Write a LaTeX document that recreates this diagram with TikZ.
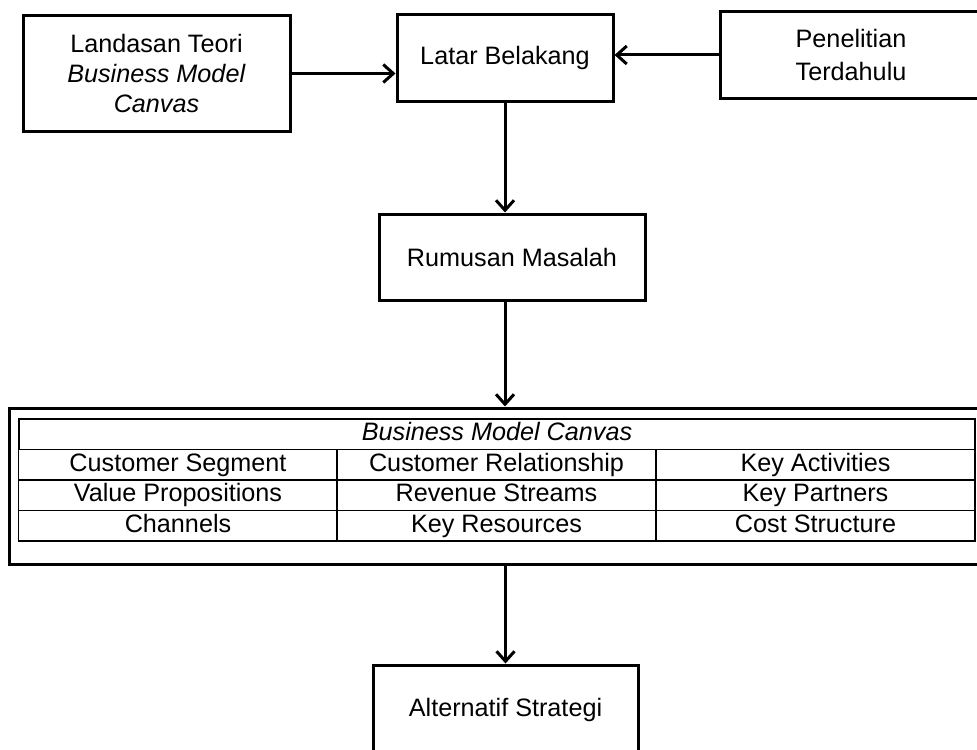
\documentclass[tikz,border=0pt]{standalone}
\usepackage{fontspec}
\setmainfont{Liberation Sans}
\usetikzlibrary{arrows.meta}

\tikzset{
    box/.style={draw, line width=1.5pt, inner sep=2pt, align=center},
    cell/.style={draw, line width=0.75pt, inner sep=0pt, minimum width=159.3pt, minimum height=15.25pt,
        text height=9pt, text depth=2.6pt},
    flow/.style={line width=1.5pt, -{Straight Barb[length=5pt,width=9pt,line width=1.5pt]}}
}

\begin{document}
\begin{tikzpicture}[x=0.5pt, y=-0.5pt, font=\fontsize{12.6}{15}\selectfont]
        \clip (0,0) rectangle (977,749);
        \fill[white] (0,0) rectangle (977,749);

        \node[box, minimum width=133.5pt, minimum height=57.5pt] (landasan) at (156.5,73.5)
            {Landasan Teori\\\textit{Business Model}\\\textit{Canvas}};
        \node[box, minimum width=108pt, minimum height=43pt] (latar) at (505,58) {Latar Belakang};
        \node[box, minimum width=131pt, minimum height=43pt] (penelitian) at (851,55) {Penelitian\\[1.5pt]Terdahulu};
        \node[box, minimum width=133pt, minimum height=43pt] (rumusan) at (512,257) {Rumusan Masalah};
        \node[box, minimum width=490.5pt, minimum height=78pt] (bmc) at (499.5,486) {};
        \node[box, minimum width=132.5pt, minimum height=45pt] (alternatif) at (505.5,710) {Alternatif Strategi};

        % canvas table
        \node[cell, minimum width=478pt] (title) at (497,434.25) {\textit{Business Model Canvas}};
        \foreach \y/\a/\b/\c in {464.75/Customer Segment/Customer Relationship/Key Activities,
                                 495.25/Value Propositions/Revenue Streams/Key Partners,
                                 525.75/Channels/Key Resources/Cost Structure}
        {
            \node[cell] at (178,\y) {\a};
            \node[cell] at (496.5,\y) {\b};
            \node[cell] at (815.5,\y) {\c};
        }

        \draw[flow] (landasan.east) -- (landasan.east -| latar.west);
        \draw[flow] (penelitian.west) -- (penelitian.west -| latar.east);
        \draw[flow] (latar.south) -- (latar.south |- rumusan.north);
        \draw[flow] (latar.south |- rumusan.south) -- (latar.south |- bmc.north);
        \draw[flow] (alternatif.north |- bmc.south) -- (alternatif.north);
    \end{tikzpicture}
\end{document}
